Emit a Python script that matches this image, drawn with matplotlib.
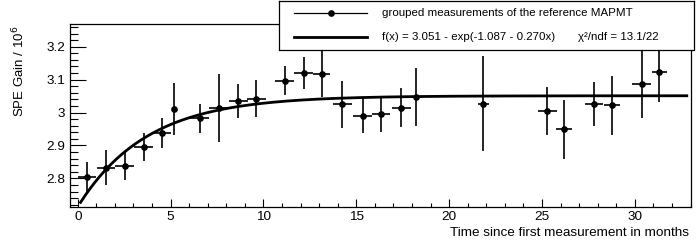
import numpy as np
import matplotlib
matplotlib.use('Agg')
import matplotlib.pyplot as plt
from matplotlib.ticker import MultipleLocator, FixedLocator

plt.rcParams['font.family'] = ['Liberation Sans', 'DejaVu Sans']

# ===================== DATA =====================
t_month = [0.50, 1.53, 2.53, 3.54, 4.54, 5.17, 6.56, 7.58, 8.64, 9.61,
           11.14, 12.16, 13.13, 14.25, 15.34, 16.33, 17.43, 18.24, 21.83,
           25.28, 26.18, 27.80, 28.79, 30.37, 31.32]
t_err = [0.50, 0.48, 0.50, 0.50, 0.50, 0.12, 0.52, 0.52, 0.52, 0.50,
         0.51, 0.50, 0.47, 0.50, 0.51, 0.49, 0.51, 0.30, 0.30,
         0.52, 0.45, 0.49, 0.43, 0.52, 0.40]
gain = [2.804, 2.833, 2.838, 2.895, 2.938, 3.011, 2.982, 3.014, 3.035, 3.042,
        3.096, 3.119, 3.117, 3.025, 2.991, 2.996, 3.015, 3.047, 3.027,
        3.005, 2.949, 3.026, 3.022, 3.087, 3.123]
gain_err = [0.045, 0.052, 0.044, 0.043, 0.046, 0.079, 0.044, 0.103, 0.051, 0.057,
            0.044, 0.049, 0.070, 0.071, 0.052, 0.054, 0.060, 0.089, 0.144,
            0.072, 0.089, 0.066, 0.089, 0.103, 0.090]

# fit parameters, f(x) = p0 - exp(p1 + p2*x)
p0, p1, p2 = 3.051, -1.087, -0.270
fit_range = (0.15, 32.8)

# ===================== FIGURE =====================
W, H = 698, 244
fig = plt.figure(figsize=(W / 100, H / 100), dpi=100)
ax = fig.add_axes([70 / W, 1 - 207 / H, 620.5 / W, 183 / H])

ax.errorbar(t_month, gain, xerr=t_err, yerr=gain_err, fmt='o', color='black',
            ms=3.8, elinewidth=1.2, capsize=0, zorder=3)

xf = np.linspace(fit_range[0], fit_range[1], 400)
ax.plot(xf, p0 - np.exp(p1 + p2 * xf), color='black', lw=2.0, zorder=4)

ax.set_xlim(-0.42, 33.0)
ax.set_ylim(2.713, 3.269)

ax.xaxis.set_major_locator(MultipleLocator(5))
ax.xaxis.set_minor_locator(MultipleLocator(1))
ax.yaxis.set_major_locator(FixedLocator([2.8, 2.9, 3.0, 3.1, 3.2]))
ax.yaxis.set_minor_locator(MultipleLocator(0.02))
ax.set_yticklabels(['2.8', '2.9', '3', '3.1', '3.2'])

ax.tick_params(axis='both', which='both', direction='in', width=0.8,
               labelsize=9.7, top=False, right=False)
ax.tick_params(axis='y', which='major', length=11.5, pad=3.4)
ax.tick_params(axis='y', which='minor', length=5.8)
ax.tick_params(axis='x', which='major', length=5.8, pad=3.2)
ax.tick_params(axis='x', which='minor', length=3.0)
for s in ax.spines.values():
    s.set_linewidth(0.9)

fig.text(689 / W, 1 - 236 / H, 'Time since first measurement in months',
         ha='right', va='baseline', fontsize=9.7)
fig.text(19 / W, 1 - 26 / H, 'SPE Gain / 10$^{6}$', rotation=90,
         ha='center', va='top', fontsize=9.5)

# ===================== LEGEND BOX =====================
lg = fig.add_axes([279 / W, 1 - 49.5 / H, (694 - 279) / W, 49 / H], zorder=10)
lg.set_xlim(279, 694)
lg.set_ylim(49.5, 0.5)
lg.set_xticks([])
lg.set_yticks([])
lg.set_facecolor('white')
for s in lg.spines.values():
    s.set_linewidth(0.9)

lg.plot([294, 367], [12.7, 12.7], color='black', lw=0.9)
lg.plot([330.7], [12.7], 'o', color='black', ms=3.8)
lg.plot([294, 367], [36.7, 36.7], color='black', lw=2.0)
lg.text(382, 13.5, 'grouped measurements of the reference MAPMT',
        va='center', ha='left', fontsize=8.25)
lg.text(382, 36.7, 'f(x) = 3.051 - exp(-1.087 - 0.270x)',
        va='center', ha='left', fontsize=8.25)
lg.text(578, 36.7, 'χ²/ndf = 13.1/22', va='center', ha='left', fontsize=8.25)

fig.savefig('out.png', dpi=100)
